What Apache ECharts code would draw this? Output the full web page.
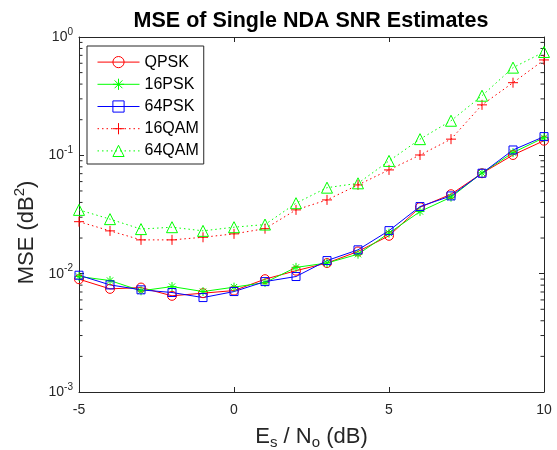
<!DOCTYPE html>
<html>
<head>
<meta charset="utf-8">
<script src="https://cdn.jsdelivr.net/npm/echarts@6/dist/echarts.min.js"></script>
<style>
html,body{margin:0;padding:0;background:#fff;}
#chart{width:557px;height:450px;}
</style>
</head>
<body>
<div id="chart"></div>
<script>
// ---- data ----
const snr = [-5, -4, -3, -2, -1, 0, 1, 2, 3, 4, 5, 6, 7, 8, 9, 10];
const qpsk  = [0.00898, 0.00744, 0.00763, 0.0065, 0.00684, 0.0072, 0.00898, 0.0106, 0.0123, 0.0154, 0.0209, 0.0364, 0.0469, 0.0706, 0.1007, 0.133];
const psk16 = [0.00946, 0.00875, 0.00716, 0.00778, 0.00706, 0.00769, 0.00841, 0.0113, 0.0123, 0.0146, 0.022, 0.0335, 0.0443, 0.071, 0.1054, 0.141];
const psk64 = [0.0097, 0.00804, 0.0073, 0.00693, 0.00628, 0.00706, 0.00857, 0.00946, 0.0129, 0.0159, 0.0231, 0.0369, 0.0454, 0.0706, 0.111, 0.144];
const qam16 = [0.0275, 0.023, 0.0193, 0.0193, 0.0203, 0.0217, 0.024, 0.0346, 0.042, 0.0562, 0.0753, 0.1007, 0.137, 0.267, 0.411, 0.64];
const qam64 = [0.0346, 0.0289, 0.0238, 0.0247, 0.023, 0.0247, 0.026, 0.0394, 0.0533, 0.058, 0.0897, 0.137, 0.196, 0.319, 0.551, 0.747];
const seriesNames = ['QPSK', '16PSK', '64PSK', '16QAM', '64QAM'];
const xTicks = [-5, 0, 5, 10];
const yTickExponents = [-3, -2, -1, 0];
const minorMultipliers = [2, 3, 4, 5, 6, 7, 8, 9];
const titleText = 'MSE of Single NDA SNR Estimates';

// ---- build ----
const AX = '#262626';
const xMin = xTicks[0], xMax = xTicks[xTicks.length - 1];
const yMin = Math.pow(10, yTickExponents[0]);
const yMax = Math.pow(10, yTickExponents[yTickExponents.length - 1]);

const minorVals = [];
for (let i = 0; i < yTickExponents.length - 1; i++) {
  for (const m of minorMultipliers) minorVals.push([xMin, m * Math.pow(10, yTickExponents[i])]);
}

const starPath = 'path://M5,0L5,10M0,5L10,5M1.5,1.5L8.5,8.5M1.5,8.5L8.5,1.5';
const plusPath = 'path://M5,0L5,10M0,5L10,5';

function pairs(arr) { return snr.map((x, i) => [x, arr[i]]); }

function mkSeries(name, arr, color, symbol, size, dotted) {
  return {
    name: name, type: 'line', data: pairs(arr),
    symbol: symbol, symbolSize: size, showAllSymbol: true,
    color: color,
    lineStyle: { color: color, width: 1, type: dotted ? [1.5, 3] : 'solid' },
    itemStyle: { color: 'none', borderColor: color, borderWidth: 1 },
    emphasis: { disabled: true },
    z: 3
  };
}

const supFmt = v => {
  const e = Math.round(Math.log10(v));
  return '{b|10}{s|' + e + '}';
};
const yLabelRich = {
  b: { fontSize: 14, color: AX, fontFamily: 'Liberation Sans' },
  s: { fontSize: 10, color: AX, fontFamily: 'Liberation Sans', padding: [0, 0, 10, 0] }
};

const chart = echarts.init(document.getElementById('chart'), null, { renderer: 'canvas' });
chart.setOption({
  animation: false,
  backgroundColor: '#fff',
  title: {
    text: titleText, left: 306, top: 5, textAlign: 'center',
    textStyle: { fontSize: 21.5, fontWeight: 'bold', color: '#000', fontFamily: 'Liberation Sans' }
  },
  grid: { left: 79, right: 13, top: 37, bottom: 58, containLabel: false, outerBoundsMode: 'none' },
  legend: {
    data: seriesNames, orient: 'vertical', left: 87, top: 46,
    padding: [8, 5, 5, 10], itemWidth: 42, itemHeight: 14, itemGap: 6,
    borderColor: AX, borderWidth: 1, backgroundColor: '#fff',
    lineStyle: { width: 1 },
    itemStyle: { borderWidth: 1 },
    textStyle: { fontSize: 16, color: '#000', fontFamily: 'Liberation Sans' },
    selectedMode: false
  },
  xAxis: [{
    type: 'value', min: xMin, max: xMax, interval: 5,
    axisLine: { onZero: false, lineStyle: { color: AX, width: 1 } },
    axisTick: { inside: true, length: 5, lineStyle: { color: AX } },
    axisLabel: { fontSize: 14, color: AX, margin: 11, fontFamily: 'Liberation Sans' },
    splitLine: { show: false },
    name: '{n|E}{sub|s}{n| / N}{sub|o}{n| (dB)}',
    nameLocation: 'middle', nameGap: 32,
    nameTextStyle: {
      rich: {
        n: { fontSize: 22, color: AX, fontFamily: 'Liberation Sans' },
        sub: { fontSize: 15, color: AX, fontFamily: 'Liberation Sans', padding: [11, 0, 0, 0] }
      }
    }
  }, {
    type: 'value', min: xMin, max: xMax, interval: 5, position: 'top',
    axisLine: { onZero: false, lineStyle: { color: AX, width: 1 } },
    axisTick: { inside: true, length: 5, lineStyle: { color: AX } },
    axisLabel: { show: false }, splitLine: { show: false }
  }],
  yAxis: [{
    type: 'log', logBase: 10, min: yMin, max: yMax, position: 'left',
    axisLine: { show: true, onZero: false, lineStyle: { color: AX, width: 1 } },
    axisTick: { inside: true, length: 5, lineStyle: { color: AX } },
    axisLabel: { formatter: supFmt, rich: yLabelRich, margin: 6 },
    splitLine: { show: false },
    name: '{n|MSE (dB}{sup|2}{n|)}',
    nameLocation: 'middle', nameGap: 33,
    nameTextStyle: {
      padding: [0, 36, 0, 0],
      rich: {
        n: { fontSize: 22, color: AX, fontFamily: 'Liberation Sans' },
        sup: { fontSize: 15, color: AX, fontFamily: 'Liberation Sans', padding: [0, 0, 13, 0] }
      }
    }
  }, {
    type: 'log', logBase: 10, min: yMin, max: yMax, position: 'right',
    axisLine: { show: true, onZero: false, lineStyle: { color: AX, width: 1 } },
    axisTick: { inside: true, length: 5, lineStyle: { color: AX } },
    axisLabel: { show: false }, splitLine: { show: false }
  }],
  series: [
    mkSeries('QPSK', qpsk, '#ff0000', 'circle', 9, false),
    mkSeries('16PSK', psk16, '#00ff00', starPath, 9, false),
    mkSeries('64PSK', psk64, '#0000ff', 'rect', 8, false),
    mkSeries('16QAM', qam16, '#ff0000', plusPath, 10, true),
    mkSeries('64QAM', qam64, '#00ff00', 'triangle', 11, true),
    {
      type: 'custom', name: 'minorTicks', data: minorVals, silent: true, z: 1,
      renderItem: function (params, api) {
        const v = api.value(1);
        const pL = api.coord([xMin, v]);
        const pR = api.coord([xMax, v]);
        return {
          type: 'group', children: [
            { type: 'line', shape: { x1: pL[0], y1: pL[1], x2: pL[0] + 3.5, y2: pL[1] }, style: { stroke: AX, lineWidth: 1 } },
            { type: 'line', shape: { x1: pR[0], y1: pR[1], x2: pR[0] - 3.5, y2: pR[1] }, style: { stroke: AX, lineWidth: 1 } }
          ]
        };
      }
    }
  ]
});
</script>
</body>
</html>
